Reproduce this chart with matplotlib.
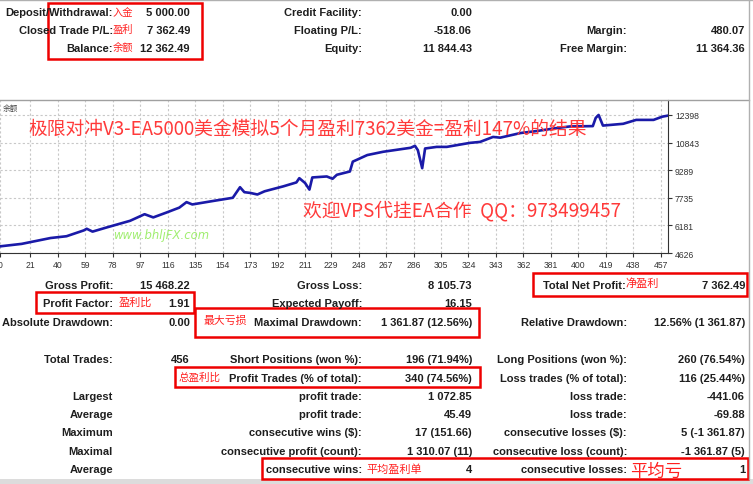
import matplotlib
matplotlib.use("Agg")
import matplotlib.pyplot as plt
from matplotlib.patches import Rectangle

plt.rcParams['font.family'] = ['Liberation Sans', 'Noto Sans CJK SC', 'DejaVu Sans']

# balance curve (trade number, balance)
trade_no = [0, 15, 35, 46, 58, 60, 64, 74, 90, 100, 106, 115, 124, 129, 133,
            147, 161, 166, 169, 173, 178, 183, 196, 205, 207, 211, 214, 216,
            226, 230, 233, 242, 244, 254, 265, 284, 287, 289, 292, 294, 302,
            309, 325, 332, 341, 346, 360, 371, 385, 394, 410, 412, 414, 417,
            431, 440, 452, 458, 462]
balance = [5000, 5140, 5470, 5570, 5900, 5990, 5830, 6070, 6440, 6810, 6630,
           6900, 7180, 7490, 7360, 7550, 7735, 8330, 8050, 8010, 7920, 8100,
           8380, 8600, 8840, 8566, 8195, 8880, 8935, 8805, 9030, 9215, 9770,
           10140, 10325, 10550, 10660, 10415, 9400, 10510, 10600, 10600, 10826,
           10880, 11160, 11120, 11380, 11490, 11660, 11750, 11770, 12230, 12398,
           11800, 11900, 12120, 12120, 12300, 12362]
x_ticks = [0, 21, 40, 59, 78, 97, 116, 135, 154, 173, 192, 211, 229, 248, 267,
           286, 305, 324, 343, 362, 381, 400, 419, 438, 457]
y_ticks = [4626, 6181, 7735, 9289, 10843, 12398]

# account summary: (label, label right x, value, value right x, row y)
top_rows = [
    ("Deposit/Withdrawal:", 113, "5 000.00", 190, 13),
    ("Closed Trade P/L:", 113, "7 362.49", 190, 31),
    ("Balance:", 113, "12 362.49", 190, 49),
    ("Credit Facility:", 362, "0.00", 472, 13),
    ("Floating P/L:", 362, "-518.06", 472, 31),
    ("Equity:", 362, "11 844.43", 472, 49),
    ("Margin:", 627, "480.07", 745, 31),
    ("Free Margin:", 627, "11 364.36", 745, 49),
]
stat_rows = [
    ("Gross Profit:", 113, "15 468.22", 190, 286),
    ("Profit Factor:", 113, "1.91", 190, 304),
    ("Absolute Drawdown:", 113, "0.00", 190, 323),
    ("Total Trades:", 113, "456", 190, 360),
    ("Gross Loss:", 362, "8 105.73", 472, 286),
    ("Expected Payoff:", 362, "16.15", 472, 304),
    ("Maximal Drawdown:", 362, "1 361.87 (12.56%)", 472, 323),
    ("Short Positions (won %):", 362, "196 (71.94%)", 472, 360),
    ("Profit Trades (% of total):", 362, "340 (74.56%)", 472, 379),
    ("profit trade:", 362, "1 072.85", 472, 397),
    ("profit trade:", 362, "45.49", 472, 415),
    ("consecutive wins ($):", 362, "17 (151.66)", 472, 433),
    ("consecutive profit (count):", 362, "1 310.07 (11)", 472, 452),
    ("consecutive wins:", 362, "4", 472, 470),
    ("Total Net Profit:", 626, "7 362.49", 745, 286),
    ("Relative Drawdown:", 627, "12.56% (1 361.87)", 745, 323),
    ("Long Positions (won %):", 627, "260 (76.54%)", 745, 360),
    ("Loss trades (% of total):", 627, "116 (25.44%)", 745, 379),
    ("loss trade:", 627, "-441.06", 745, 397),
    ("loss trade:", 627, "-69.88", 745, 415),
    ("consecutive losses ($):", 627, "5 (-1 361.87)", 745, 433),
    ("consecutive loss (count):", 627, "-1 361.87 (5)", 745, 452),
    ("consecutive losses:", 627, "1", 745, 470),
]
row_heads = [("Largest", 397), ("Average", 415), ("Maximum", 433),
             ("Maximal", 452), ("Average", 470)]
# red notes: text, x, y, size
notes = [("入金", 113, 13, 7.4), ("盈利", 113, 30, 7.4), ("余额", 113, 48, 7.4),
         ("净盈利", 625, 284, 8.0), ("盈利比", 119, 303, 8.0),
         ("最大亏损", 204, 321, 7.8), ("总盈利比", 179, 378, 7.6),
         ("平均盈利单", 366, 470, 8.0), ("平均亏", 630, 472, 12.5)]
boxes = [(48, 4, 202, 60), (533, 274, 747, 297), (36, 293, 194, 314),
         (195, 309, 479, 338), (175, 368, 480, 388), (262, 459, 748, 480)]

W, H = 753, 485
fig = plt.figure(figsize=(W / 100, H / 100), dpi=100)
fig.patch.set_facecolor('white')

# balance chart
ax = fig.add_axes([0, 1 - 254 / H, 668 / W, (254 - 101) / H])
ax.plot(trade_no, balance, color='#1a1aa8', lw=1.9)
ax.set_xlim(0, 462)
ax.set_ylim(4626, 13240)
ax.set_xticks(x_ticks)
ax.set_yticks(y_ticks)
ax.yaxis.tick_right()
ax.tick_params(labelsize=6.2, length=3, colors='#333333', pad=2)
ax.grid(True, color='#c8c8c8', ls=(0, (2, 2)), lw=0.8)
for s in ['left', 'top']:
    ax.spines[s].set_visible(False)
for s in ['right', 'bottom']:
    ax.spines[s].set_color('#333333')

# overlay in pixel coordinates
ov = fig.add_axes([0, 0, 1, 1], facecolor='none')
ov.set_xlim(0, W)
ov.set_ylim(H, 0)
ov.axis('off')

ov.plot([0, 749], [101, 101], color='#a0a0a0', lw=1)
ov.plot([0, W], [0.5, 0.5], color='#b0b0b0', lw=1)
ov.plot([749.5, 749.5], [0, 480], color='#b0b0b0', lw=1)
ov.add_patch(Rectangle((0, 480), W, 5, color='#dcdcdc', lw=0))
ov.text(3, 109, "余额", fontsize=5.5, color='#444444', va='center',
        family=['Noto Sans CJK SC'])

txt = dict(fontsize=8.0, fontweight='bold', color='#1e1e1e', va='center', ha='right')
for lab, lx, val, vx, y in top_rows + stat_rows:
    ov.text(lx, y, lab, **txt)
    ov.text(vx, y, val, **txt)
for lab, y in row_heads:
    ov.text(113, y, lab, **txt)

for t, x, y, s in notes:
    ov.text(x, y, t, fontsize=s, color='#ff2020', va='center', ha='left',
            family=['Noto Sans CJK SC'])

for x0, y0, x1, y1 in boxes:
    ov.add_patch(Rectangle((x0, y0), x1 - x0, y1 - y0, fill=False,
                           ec='#ee0000', lw=1.8))

big = dict(fontsize=13.5, color='#ff3a3a', va='center', ha='left',
           family=['Noto Sans CJK SC', 'DejaVu Sans'])
ov.text(28, 129, "极限对冲V3-EA5000美金模拟5个月盈利7362美金=盈利147%的结果", **big)
ov.text(303, 211, "欢迎VPS代挂EA合作  QQ：973499457", **big)
ov.text(113, 236, "www.bhljFX.com", fontsize=8.4, color='#a0ee70', style='italic',
        va='center', ha='left', family=['DejaVu Sans'])

fig.savefig("out.png", dpi=100)
